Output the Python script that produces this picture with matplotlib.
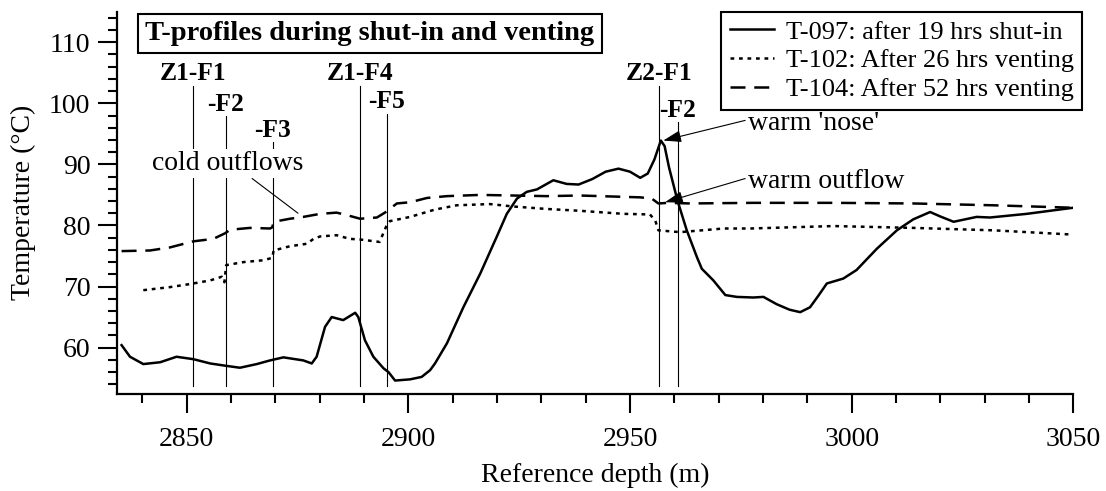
import matplotlib
matplotlib.use("Agg")
import matplotlib.pyplot as plt
from matplotlib.ticker import MultipleLocator

plt.rcParams['font.family'] = ['Liberation Serif', 'DejaVu Serif']
plt.rcParams['mathtext.fontset'] = 'stix'

# ---------------- data ----------------
t097_depth = [2835.3, 2837.2, 2840.2, 2844.0, 2847.7, 2851.5, 2855.3, 2859.0, 2862.0, 2865.8,
              2868.8, 2871.8, 2876.3, 2878.2, 2879.3, 2881.2, 2882.7, 2885.3, 2888.0, 2888.7,
              2890.2, 2892.1, 2894.4, 2895.5, 2897.0, 2900.4, 2903.0, 2904.9, 2906.0, 2908.7,
              2912.4, 2916.2, 2919.9, 2922.2, 2924.5, 2926.7, 2929.0, 2932.7, 2935.7, 2938.4,
              2941.5, 2944.5, 2947.4, 2950.0, 2952.3, 2954.0, 2955.5, 2956.95, 2957.8, 2958.8,
              2960.7, 2962.8, 2965.1, 2966.2, 2967.3, 2968.8, 2971.5, 2974.1, 2977.8, 2980.1,
              2983.1, 2986.0, 2988.4, 2990.6, 2992.5, 2994.4, 2998.1, 3001.1, 3005.7, 3010.2,
              3013.9, 3017.7, 3019.9, 3023.0, 3028.2, 3031.2, 3039.5, 3050.0]
t097_temp = [60.4, 58.5, 57.3, 57.6, 58.5, 58.1, 57.4, 57.0, 56.7, 57.3,
             57.9, 58.4, 57.9, 57.4, 58.5, 63.4, 65.0, 64.5, 65.7, 65.0,
             61.2, 58.5, 56.6, 56.0, 54.6, 54.8, 55.2, 56.3, 57.4, 60.7,
             66.6, 72.1, 78.1, 81.9, 84.4, 85.5, 85.9, 87.4, 86.8, 86.7,
             87.6, 88.8, 89.3, 88.8, 87.8, 88.5, 90.8, 93.9, 93.0, 89.5,
             84.1, 79.2, 74.8, 72.9, 72.1, 71.0, 68.6, 68.3, 68.2, 68.3,
             67.1, 66.2, 65.8, 66.6, 68.5, 70.5, 71.3, 72.7, 76.2, 79.2,
             81.0, 82.2, 81.5, 80.6, 81.4, 81.3, 81.9, 82.9]

t102_depth = [2840.2, 2846.2, 2850.7, 2855.3, 2857.9, 2858.5, 2858.9, 2862.8, 2867.3, 2869.3,
              2869.6, 2873.3, 2877.1, 2878.6, 2880.1, 2883.8, 2886.8, 2889.1, 2893.5, 2895.1,
              2895.8, 2900.4, 2906.0, 2910.9, 2918.4, 2923.7, 2931.2, 2938.7, 2948.5, 2954.5,
              2955.7, 2956.4, 2961.3, 2971.1, 2977.1, 2995.9, 3013.9, 3032.0, 3050.0]
t102_temp = [69.4, 69.9, 70.4, 71.0, 71.6, 70.7, 73.5, 74.0, 74.3, 74.7,
             75.9, 76.6, 77.0, 77.8, 78.2, 78.4, 77.8, 77.7, 77.3, 80.0,
             80.7, 81.4, 82.6, 83.3, 83.5, 83.1, 82.7, 82.4, 81.9, 81.8,
             80.8, 79.2, 78.9, 79.5, 79.5, 79.9, 79.6, 79.2, 78.5]

t104_depth = [2835.3, 2841.7, 2846.2, 2851.5, 2856.0, 2858.6, 2859.8, 2864.3, 2868.8, 2869.3,
              2869.6, 2873.3, 2876.3, 2880.1, 2883.8, 2886.1, 2889.1, 2892.9, 2894.7, 2897.4,
              2900.4, 2904.2, 2908.7, 2916.2, 2923.7, 2931.2, 2938.7, 2952.3, 2954.9, 2956.4,
              2958.6, 2963.6, 2977.8, 2995.9, 3013.9, 3032.0, 3050.0]
t104_temp = [75.8, 75.9, 76.4, 77.4, 77.8, 78.7, 79.3, 79.6, 79.5, 79.7,
             80.6, 81.1, 81.4, 81.9, 82.1, 81.7, 81.1, 81.3, 82.1, 83.6,
             83.8, 84.5, 84.8, 85.0, 84.9, 84.8, 84.9, 84.6, 84.4, 83.6,
             83.7, 83.6, 83.7, 83.7, 83.6, 83.3, 82.9]

series_labels = ["T-097: after 19 hrs shut-in",
                 "T-102: After 26 hrs venting",
                 "T-104: After 52 hrs venting"]

frac_labels = ["Z1-F1", "-F2", "-F3", "Z1-F4", "-F5", "Z2-F1", "-F2"]
frac_depth = [2851.5, 2858.8, 2869.4, 2889.1, 2895.1, 2956.6, 2960.8]
frac_top = [102.9, 97.9, 93.65, 102.9, 98.3, 102.9, 96.9]
frac_bottom = 53.7

title_text = "T-profiles during shut-in and venting"

# ---------------- figure ----------------
fig = plt.figure(figsize=(11.06, 4.91), dpi=100)
ax = fig.add_axes([116.7 / 1106, 1 - 394 / 491, (1073.3 - 116.7) / 1106, (394 - 11.7) / 491])

lw = 1.8
ax.plot(t097_depth, t097_temp, color='black', lw=lw, ls='-', label=series_labels[0])
ax.plot(t102_depth, t102_temp, color='black', lw=lw, ls=(0, (1.5, 1.9)), label=series_labels[1])
ax.plot(t104_depth, t104_temp, color='black', lw=lw, ls=(0, (6, 3.5)), label=series_labels[2])

for lab, d, top in zip(frac_labels, frac_depth, frac_top):
    ax.plot([d, d], [frac_bottom, top], color='black', lw=0.8, zorder=1.5)
    ax.annotate(lab, xy=(d, top), xytext=(0, 4), textcoords='offset points',
                ha='center', va='baseline', fontsize=18.4, fontweight='bold')

ax.set_xlim(2834.2, 3050)
ax.set_ylim(52.4, 115)

for s in ['top', 'right']:
    ax.spines[s].set_visible(False)
for s in ['left', 'bottom']:
    ax.spines[s].set_linewidth(1.6)

ax.xaxis.set_major_locator(MultipleLocator(50))
ax.xaxis.set_minor_locator(MultipleLocator(10))
ax.yaxis.set_major_locator(MultipleLocator(10))
ax.yaxis.set_minor_locator(MultipleLocator(2))
ax.set_yticks([60, 70, 80, 90, 100, 110])
ax.tick_params(axis='both', which='major', direction='out', length=13.5, width=1.5,
               labelsize=20)
ax.tick_params(axis='x', which='major', pad=10)
ax.tick_params(axis='y', which='major', pad=5.5)
ax.tick_params(axis='both', which='minor', direction='out', length=6.8, width=1.5)

ax.set_xlabel("Reference depth (m)", fontsize=20, labelpad=8)
ax.set_ylabel("Temperature (°C)", fontsize=20, labelpad=9)

# title box
ax.text(0.0296, 0.943, title_text, transform=ax.transAxes, ha='left', va='center',
        fontsize=20.5, fontweight='bold',
        bbox=dict(boxstyle='square,pad=0.26', facecolor='white', edgecolor='black', linewidth=1.5))

# annotations
ax.annotate("cold outflows", xy=(2875.1, 82.0), xytext=(2859.3, 90.1),
            ha='center', va='center', fontsize=20,
            bbox=dict(boxstyle='square,pad=0.08', facecolor='white', edgecolor='none'),
            arrowprops=dict(arrowstyle='-', color='black', lw=0.8, relpos=(0.64, 0.0),
                            shrinkA=0, shrinkB=0))
arrow_style = '-|>,head_length=0.55,head_width=0.18'
ax.annotate("warm 'nose'", xy=(2957.5, 93.9), xytext=(2976.6, 96.7),
            ha='left', va='center', fontsize=20,
            arrowprops=dict(arrowstyle=arrow_style, color='black', lw=0.8, relpos=(0.0, 0.65),
                            mutation_scale=20, shrinkA=0, shrinkB=0))
ax.annotate("warm outflow", xy=(2957.9, 83.8), xytext=(2976.6, 87.2),
            ha='left', va='center', fontsize=20,
            arrowprops=dict(arrowstyle=arrow_style, color='black', lw=0.8, relpos=(0.0, 0.65),
                            mutation_scale=20, shrinkA=0, shrinkB=0))

leg = ax.legend(loc='upper right', bbox_to_anchor=(1082 / 1106, 1 - 11.7 / 491),
                bbox_transform=fig.transFigure, borderaxespad=0, fontsize=19,
                frameon=True, fancybox=False, edgecolor='black', framealpha=1,
                handlelength=1.7, handletextpad=0.42, borderpad=0.32, labelspacing=0.2)
leg.get_frame().set_linewidth(1.5)

fig.savefig("out.png", dpi=100)
